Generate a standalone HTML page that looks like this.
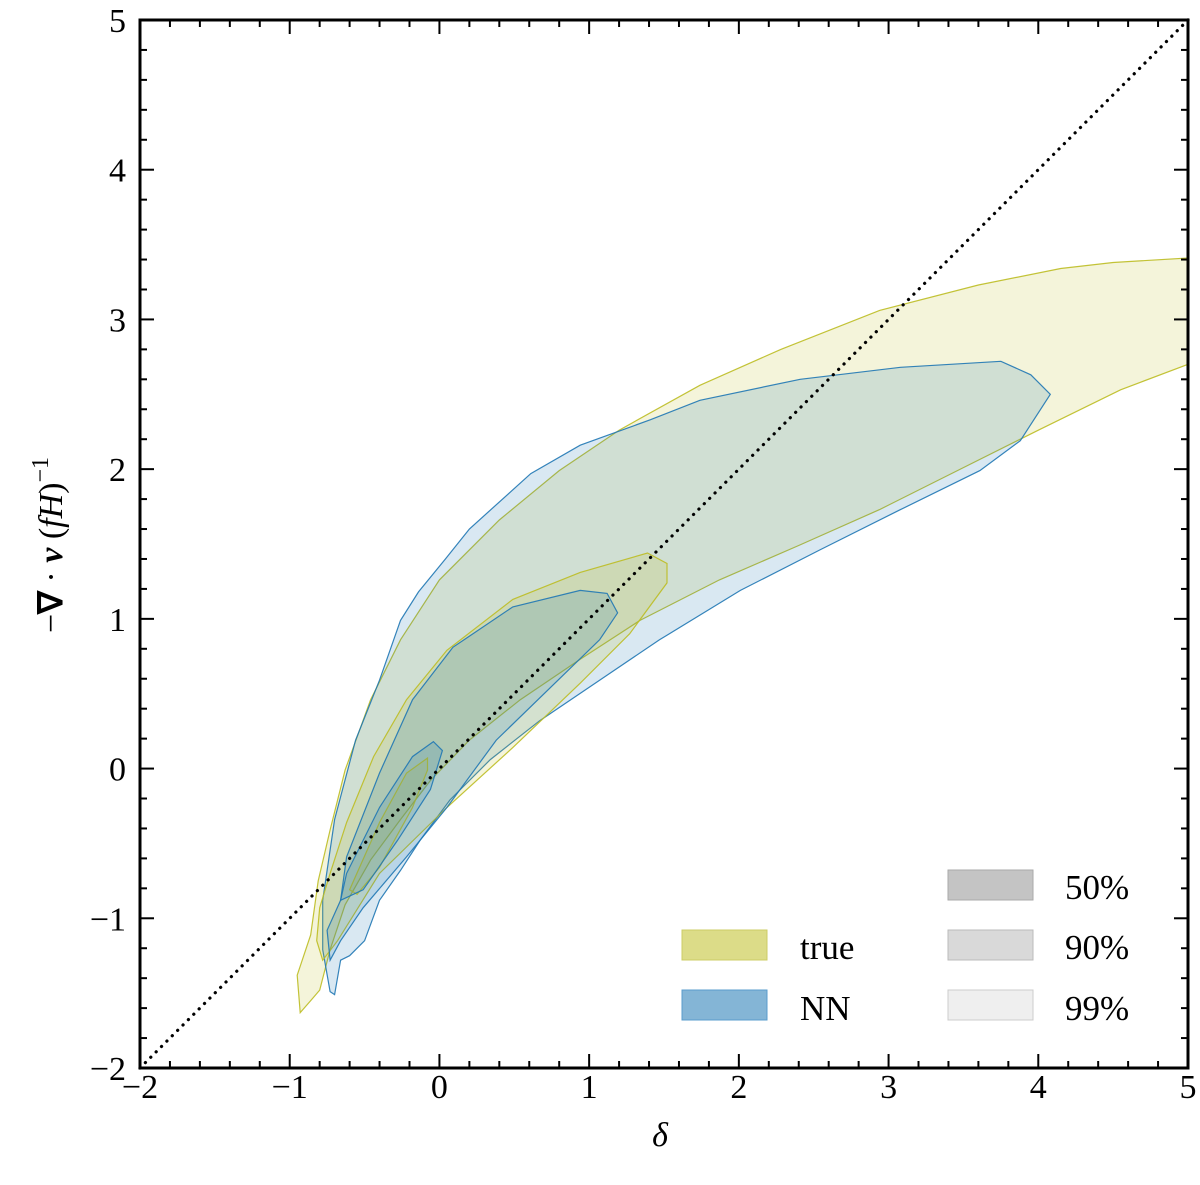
<!DOCTYPE html>
<html><head><meta charset="utf-8"><style>
body{margin:0;background:#fff}
svg text{font-family:"Liberation Serif",serif;fill:#000}
</style></head><body>
<svg id="chart" width="1200" height="1180" xmlns="http://www.w3.org/2000/svg">
<g id="contours"></g>
<g id="axes"></g>
</svg>
<script>
const xTicks=[-2,-1,0,1,2,3,4,5];
const yTicks=[-2,-1,0,1,2,3,4,5];
const trueOuter=[[-0.93,-1.63],[-0.95,-1.38],[-0.86,-1.11],[-0.81,-0.75],[-0.73,-0.41],[-0.63,-0.01],[-0.46,0.46],[-0.26,0.86],[0.0,1.26],[0.4,1.66],[0.8,1.99],[1.2,2.26],[1.74,2.56],[2.28,2.8],[2.94,3.06],[3.6,3.23],[4.15,3.34],[4.5,3.38],[5,3.41],[5,2.7],[4.55,2.53],[4.0,2.26],[3.48,2.0],[2.94,1.73],[2.4,1.49],[1.87,1.26],[1.34,0.99],[0.94,0.73],[0.54,0.46],[0.2,0.19],[-0.06,-0.08],[-0.26,-0.34],[-0.46,-0.61],[-0.63,-0.91],[-0.73,-1.21],[-0.8,-1.48],[-0.86,-1.55]];
const nnOuter=[[-0.73,-1.49],[-0.78,-1.21],[-0.78,-0.88],[-0.70,-0.34],[-0.56,0.19],[-0.40,0.59],[-0.26,0.99],[-0.14,1.18],[0.04,1.40],[0.20,1.60],[0.61,1.97],[0.94,2.16],[1.41,2.33],[1.74,2.46],[2.41,2.60],[3.08,2.68],[3.75,2.72],[3.95,2.63],[4.08,2.50],[3.88,2.19],[3.61,1.99],[3.08,1.73],[2.54,1.46],[2.01,1.19],[1.47,0.86],[1.07,0.59],[0.67,0.32],[0.34,0.06],[0.07,-0.21],[-0.13,-0.48],[-0.26,-0.68],[-0.40,-0.88],[-0.50,-1.15],[-0.60,-1.25],[-0.66,-1.28],[-0.70,-1.51]];
const trueMid=[[-0.78,-1.28],[-0.82,-1.15],[-0.80,-0.93],[-0.73,-0.70],[-0.62,-0.36],[-0.44,0.08],[-0.22,0.46],[0.05,0.79],[0.49,1.13],[0.94,1.31],[1.39,1.44],[1.52,1.37],[1.52,1.24],[1.27,0.90],[0.94,0.57],[0.49,0.14],[0.05,-0.26],[-0.40,-0.70],[-0.68,-1.15]];
const nnMid=[[-0.66,-0.88],[-0.62,-0.59],[-0.40,-0.03],[-0.18,0.46],[0.09,0.81],[0.49,1.08],[0.94,1.19],[1.12,1.17],[1.19,1.04],[1.07,0.86],[0.72,0.52],[0.38,0.19],[0.05,-0.26],[-0.22,-0.59],[-0.51,-0.93],[-0.66,-1.15],[-0.73,-1.28],[-0.75,-1.08]];
const trueInner=[[-0.60,-0.81],[-0.40,-0.36],[-0.22,-0.03],[-0.08,0.07],[-0.08,-0.01],[-0.18,-0.26],[-0.40,-0.66],[-0.55,-0.84]];
const nnInner=[[-0.66,-0.88],[-0.62,-0.70],[-0.40,-0.26],[-0.18,0.08],[-0.04,0.18],[0.02,0.12],[-0.06,-0.14],[-0.28,-0.48],[-0.51,-0.81]];
const diag=[-2,5];

const L=140,R=1188,T=20,B=1068;
const sx=v=>L+(v+2)/7*(R-L);
const sy=v=>B-(v+2)/7*(B-T);
const NS="http://www.w3.org/2000/svg";
function mk(tag,attrs,parent){const e=document.createElementNS(NS,tag);for(const k in attrs)e.setAttribute(k,attrs[k]);parent.appendChild(e);return e;}
const cg=document.getElementById('contours');
const ag=document.getElementById('axes');
const layers=[[trueOuter,'188,189,34','true-99-contour'],[nnOuter,'31,119,180','nn-99-contour'],[trueMid,'188,189,34','true-90-contour'],[nnMid,'31,119,180','nn-90-contour'],[trueInner,'188,189,34','true-50-contour'],[nnInner,'31,119,180','nn-50-contour']];
layers.forEach(([pts,c,name])=>{
  const p=mk('polygon',{points:pts.map(q=>sx(q[0]).toFixed(1)+','+sy(q[1]).toFixed(1)).join(' '),fill:'rgba('+c+',0.17)',stroke:'rgba('+c+',0.9)','stroke-width':1.2},cg);
  
  
});
const dl=mk('line',{x1:sx(diag[0]),y1:sy(diag[0]),x2:sx(diag[1]),y2:sy(diag[1]),stroke:'#000','stroke-width':3.2,'stroke-dasharray':'0.1 7.5','stroke-linecap':'round'},cg);


for(let i=0;i<=35;i++){
  const v=-2+i*0.2;const major=i%5===0;const len=major?14:7;
  const x=sx(v),y=sy(v);
  mk('line',{x1:x,y1:B,x2:x,y2:B-len,stroke:'#000','stroke-width':2},ag);
  mk('line',{x1:x,y1:T,x2:x,y2:T+len,stroke:'#000','stroke-width':2},ag);
  mk('line',{x1:L,y1:y,x2:L+len,y2:y,stroke:'#000','stroke-width':2},ag);
  mk('line',{x1:R,y1:y,x2:R-len,y2:y,stroke:'#000','stroke-width':2},ag);
}
xTicks.forEach(v=>{const t=mk('text',{x:sx(v),y:1098,'font-size':34,'text-anchor':'middle'},ag);t.textContent=(v<0?'\u2212'+(-v):v);

});
yTicks.forEach(v=>{const t=mk('text',{x:126,y:sy(v)+12,'font-size':34,'text-anchor':'end'},ag);t.textContent=(v<0?'\u2212'+(-v):v);

});
const fr=mk('rect',{x:L,y:T,width:R-L,height:B-T,fill:'none',stroke:'#000','stroke-width':3},ag);


</script>
<svg style="position:absolute;left:0;top:0" width="1200" height="1180" xmlns="http://www.w3.org/2000/svg">
<text x="660" y="1146" font-size="34" font-style="italic" text-anchor="middle" font-family="Liberation Serif,serif">δ</text>
<text transform="translate(62,545) rotate(-90)" font-size="34" text-anchor="middle" font-family="Liberation Serif,serif"><tspan>−</tspan><tspan font-weight="bold">∇</tspan><tspan> · </tspan><tspan font-weight="bold" font-style="italic">v</tspan><tspan> (</tspan><tspan font-style="italic">fH</tspan><tspan>)</tspan><tspan font-size="24" dy="-14">−1</tspan></text>
<g font-family="Liberation Serif,serif" font-size="35">
<rect x="682" y="930" width="85" height="30" fill="#dcdc88" stroke="#cccc66"/>
<text x="800" y="959">true</text>
<rect x="682" y="990" width="85" height="30" fill="#84b5d6" stroke="#5a9ccc"/>
<text x="800" y="1020">NN</text>
<rect x="948" y="870" width="85" height="30" fill="#c4c4c4" stroke="#aaa"/>
<text x="1065" y="899">50%</text>
<rect x="948" y="930" width="85" height="30" fill="#d9d9d9" stroke="#bbb"/>
<text x="1065" y="959">90%</text>
<rect x="948" y="990" width="85" height="30" fill="#efefef" stroke="#ccc"/>
<text x="1065" y="1020">99%</text>
</g>
</svg>
</body></html>
